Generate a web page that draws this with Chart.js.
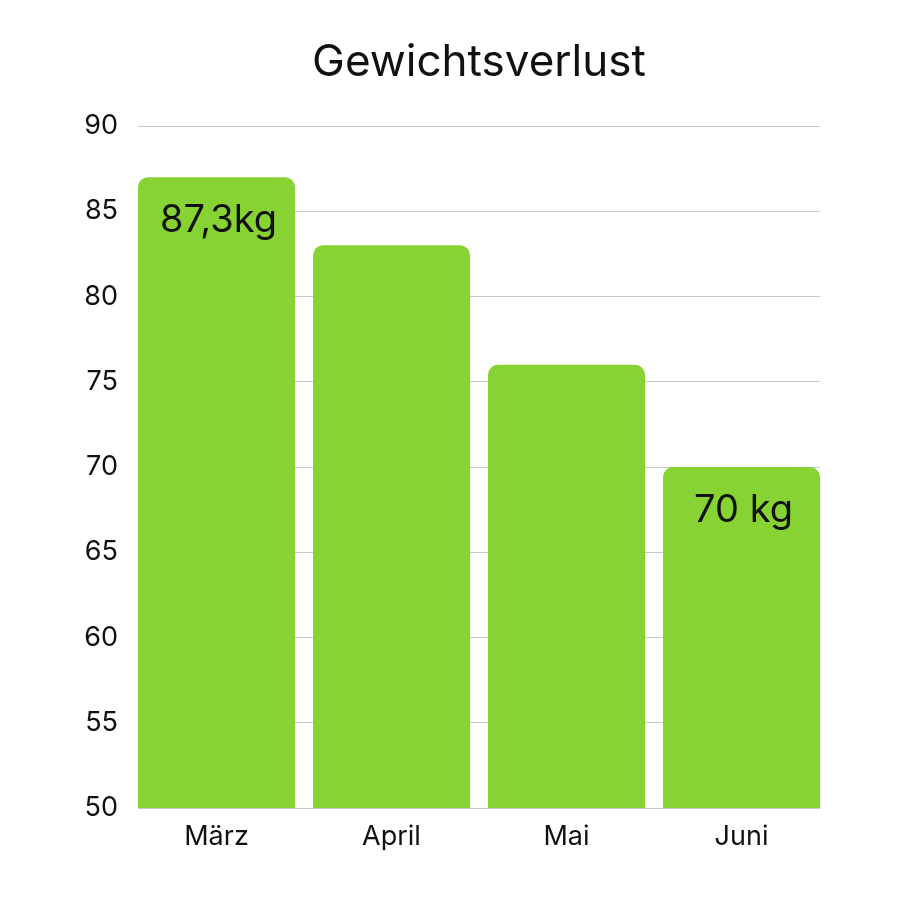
<!DOCTYPE html>
<html>
<head>
<meta charset="utf-8">
<script src="https://cdn.jsdelivr.net/npm/chart.js@4"></script>
<style>
  html, body { margin: 0; padding: 0; background: #fff; }
  #wrap { width: 900px; height: 900px; }
</style>
</head>
<body>
<div id="wrap"><canvas id="myChart" width="900" height="900"></canvas></div>
<script>
const months = ["März", "April", "Mai", "Juni"];
const weights = [87, 83, 76, 70];
const barLabels = ["87,3kg", "", "", "70 kg"];
const yTicks = [50, 55, 60, 65, 70, 75, 80, 85, 90];
const titleText = "Gewichtsverlust";

const FONT = "Inter, 'Noto Sans', sans-serif";

// bars fill the plot edge to edge, so squeeze the category offset
const edgeBars = {
  id: "edgeBars",
  afterLayout(chart) {
    const x = chart.scales.x;
    const gap = 18;
    const barW = (x.width - gap * (months.length - 1)) / months.length;
    const step = barW + gap;
    x._startValue = -(barW / 2) / step;
    x._valueRange = x.width / step;
  },
};

// title centred on the plot + kg text inside the bars
const extras = {
  id: "extras",
  afterDraw(chart) {
    const c = chart.ctx;
    const area = chart.chartArea;
    c.save();
    c.fillStyle = "#111";
    c.textAlign = "center";
    c.textBaseline = "alphabetic";
    c.font = "44px " + FONT;
    c.fillText(titleText, (area.left + area.right) / 2, 76);
    c.font = "38px " + FONT;
    chart.getDatasetMeta(0).data.forEach((bar, i) => {
      if (barLabels[i]) c.fillText(barLabels[i], bar.x + 2, bar.y + 55);
    });
    c.restore();
  },
};

const ctx = document.getElementById("myChart");

new Chart(ctx, {
  type: "bar",
  data: {
    labels: months,
    datasets: [
      {
        label: "Gewicht",
        data: weights,
        backgroundColor: "#86d333",
        borderRadius: { topLeft: 10, topRight: 10 },
        borderSkipped: "bottom",
        categoryPercentage: 1,
        barPercentage: 157 / 175,
      },
    ],
  },
  options: {
    responsive: false,
    animation: false,
    layout: { padding: { left: 0, right: 80, top: 126, bottom: 0 } },
    plugins: {
      legend: { display: false },
      tooltip: { enabled: false },
      title: { display: false },
    },
    scales: {
      y: {
        min: 50,
        max: 90,
        afterBuildTicks(scale) {
          scale.ticks = yTicks.map((v) => ({ value: v }));
        },
        afterFit(scale) {
          scale.width = 138;
        },
        ticks: {
          color: "#111",
          padding: 20,
          font: { family: FONT, size: 27 },
        },
        grid: { color: "#c8c8c8", drawTicks: false },
        border: { display: false },
      },
      x: {
        afterFit(scale) {
          scale.height = 92;
        },
        ticks: {
          color: "#111",
          padding: 5,
          font: { family: FONT, size: 27 },
        },
        grid: { display: false },
        border: { display: false },
      },
    },
  },
  plugins: [edgeBars, extras],
});
</script>
</body>
</html>
